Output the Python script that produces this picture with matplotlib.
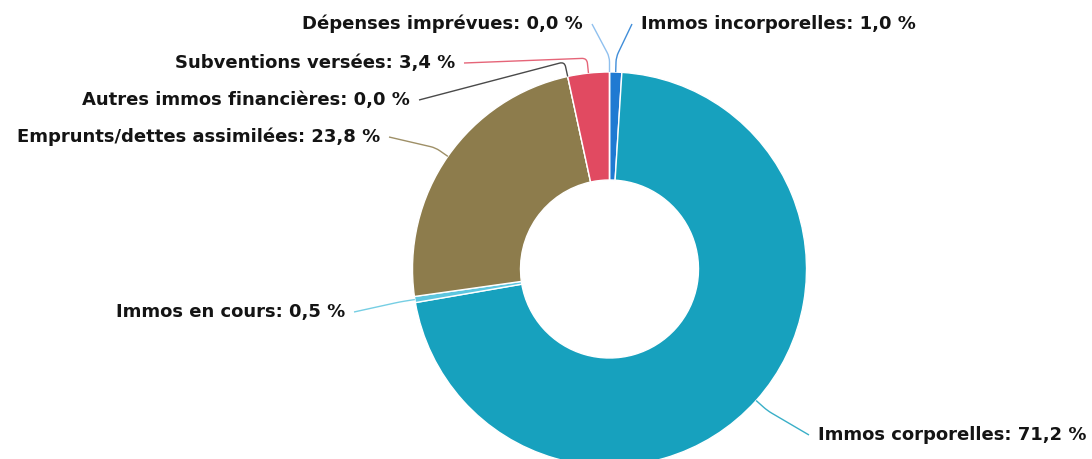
import numpy as np
import matplotlib
matplotlib.use("Agg")
import matplotlib.pyplot as plt
from matplotlib.path import Path
from matplotlib.patches import PathPatch

# Budget shares (%) in drawing order, clockwise from 12 o'clock
categories = [
    "Immos incorporelles",
    "Immos corporelles",
    "Immos en cours",
    "Emprunts/dettes assimilées",
    "Autres immos financières",
    "Subventions versées",
    "Dépenses imprévues",
]
shares = [1.0, 71.2, 0.5, 23.8, 0.0, 3.4, 0.0]
colors = ["#1f7ad2", "#17a1be", "#5ec6df", "#8d7c4c", "#2a2a2a", "#e14a61", "#7cb5ec"]

# Label placement in pixel space: (x, y from top, horizontal alignment)
label_layout = [
    (641, 24, "left"),
    (818, 435, "left"),
    (345, 312, "right"),
    (380, 137, "right"),
    (410, 100, "right"),
    (455, 63, "right"),
    (583, 24, "right"),
]

W, H = 1092, 459
fig = plt.figure(figsize=(W / 100, H / 100), dpi=100)
ax = fig.add_axes([0, 0, 1, 1])

cx, cy = 609.5, H - 269
R, r = 197, 89
wedges, _ = ax.pie(
    shares, colors=colors, startangle=90, counterclock=False,
    center=(cx, cy), radius=R,
    wedgeprops=dict(width=R - r, edgecolor="white", linewidth=1.0),
)
ax.set_xlim(0, W)
ax.set_ylim(0, H)
ax.set_aspect("equal")
ax.axis("off")


def fmt(v):
    return f"{v:.1f}".replace(".", ",") + " %"


# Labels with crooked connectors from each slice's outer edge
L, k, gap = 15, 5, 9
for wedge, name, val, col, (lx, ly, ha) in zip(
        wedges, categories, shares, colors, label_layout):
    mid = np.deg2rad((wedge.theta1 + wedge.theta2) / 2)
    u = np.array([np.cos(mid), np.sin(mid)])
    A = np.array([cx, cy]) + R * u
    B = A + L * u
    ty = H - ly
    ax.text(lx, ty, f"{name}: {fmt(val)}", ha=ha, va="center",
            fontsize=13, fontweight="bold", color="#141414",
            family="DejaVu Sans")
    C = np.array([lx - gap if ha == "left" else lx + gap, ty])
    d = C - B
    dn = d / (np.linalg.norm(d) + 1e-9)
    verts = [tuple(A), tuple(A + (L - k) * u), tuple(B), tuple(B + k * dn), tuple(C)]
    codes = [Path.MOVETO, Path.LINETO, Path.CURVE3, Path.CURVE3, Path.LINETO]
    ax.add_patch(PathPatch(Path(verts, codes), fill=False, edgecolor=col,
                           linewidth=1.0, alpha=0.85))

fig.savefig("out.png", dpi=100, facecolor="white")
